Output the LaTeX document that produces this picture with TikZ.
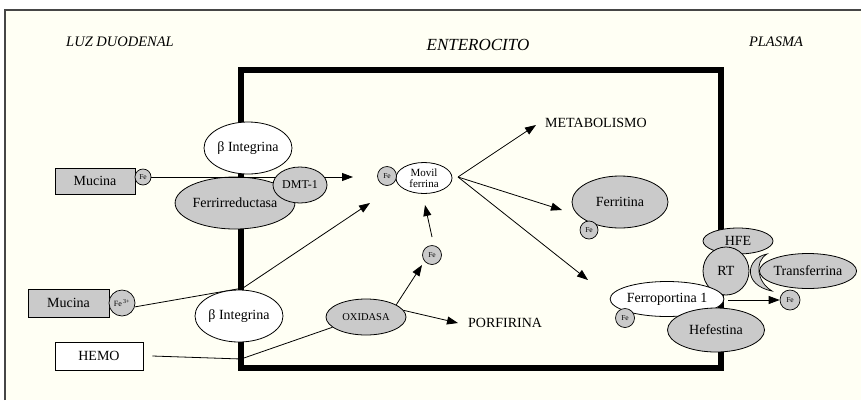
\documentclass[tikz,border=0pt]{standalone}
\usepackage{fontspec}
\setmainfont{Liberation Serif}
\usetikzlibrary{shapes.geometric,arrows.meta}
\pgfdeclarelayer{bg}
\pgfsetlayers{bg,main}
\definecolor{paper}{RGB}{255,255,244}
\definecolor{protfill}{RGB}{202,202,202}
\definecolor{framegray}{RGB}{70,70,70}
\begin{document}
\begin{tikzpicture}[x=1pt,y=-1pt,
  txt/.style={font=\fontsize{14}{14}\selectfont, inner sep=0pt},
  region/.style={font=\fontsize{14.5}{14.5}\selectfont\itshape, inner sep=0pt},
  ell/.style={ellipse, draw=black, line width=0.8pt, inner sep=0pt, font=\fontsize{14}{14}\selectfont},
  prot/.style={ell, fill=protfill},
  memb/.style={ell, fill=white},
  boxed/.style={rectangle, draw=black, line width=0.9pt, inner sep=0pt, font=\fontsize{14}{14}\selectfont},
  iron/.style={circle, draw=black, line width=0.7pt, fill=protfill, inner sep=0pt, font=\fontsize{7.5}{7.5}\selectfont},
  link/.style={line width=0.8pt},
  flow/.style={line width=0.8pt, -{Triangle[length=11pt,width=8pt]}},
  wall/.style={draw=black, line width=5.5pt, line join=miter, inner sep=0pt},
]
\useasboundingbox (0,0) rectangle (861,400);

% page and frame
\begin{pgfonlayer}{bg}
  \fill[white] (0,0) rectangle (861,400);
  \fill[paper] (5,10) rectangle (861,400);
  \draw[framegray, line width=1.2pt] (5,400) -- (5,10) -- (861,10);
\end{pgfonlayer}

% region titles
\node[region] (luz) at (120,42) {LUZ DUODENAL};
\node[region, font=\fontsize{17}{17}\selectfont\itshape] (ente) at (478,45) {ENTEROCITO};
\node[region] (plasma) at (776,42) {PLASMA};

% enterocyte wall
\node[wall, minimum width=480pt, minimum height=298pt] (cell) at (481,219) {};

% apical membrane, upper pathway
\node[memb, minimum width=88pt, minimum height=52pt] (bint1) at (248,148) {β Integrina};
\node[prot, minimum width=98pt, minimum height=52pt] (ferr) at (235,203) {Ferrirreductasa};
\node[boxed, fill=protfill, minimum width=80pt, minimum height=26pt] (muc1) at (95,181) {Mucina};
\node[iron, minimum size=16pt] (fe1) at (143,177) {Fe};
\coordinate (dmtout) at (353,177);
\draw[flow] (fe1.east) -- (dmtout);
\node[prot, minimum width=54pt, minimum height=36pt, font=\fontsize{12}{12}\selectfont] (dmt) at (300,185) {DMT-1};

% cytosolic carrier
\node[memb, minimum width=56pt, minimum height=31pt, align=center, font=\fontsize{11}{10.5}\selectfont] (movil) at (424,178) {Movil\\ferrina};
\node[iron, minimum size=19pt] (fe2) at (387,176) {Fe};
\node[iron, minimum size=19pt] (fe3) at (432,255) {Fe};

% heme pathway
\node[prot, minimum width=80pt, minimum height=36pt, font=\fontsize{10.5}{10.5}\selectfont] (oxi) at (366,317) {OXIDASA};
\node[txt, anchor=west] (porf) at (468,323) {PORFIRINA};
\node[boxed, fill=white, minimum width=88pt, minimum height=28pt] (hemo) at (99,356) {HEMO};

% apical membrane, lower pathway
\node[boxed, fill=protfill, minimum width=81pt, minimum height=28pt] (muc2) at (68.5,303) {Mucina};
\node[iron, minimum size=26pt, font=\fontsize{8}{8}\selectfont] (fe3p) at (122,303) {Fe\,\textsuperscript{3+}};
\node[memb, minimum width=88pt, minimum height=52pt] (bint2) at (239,316) {β Integrina};

% fates of iron
\node[txt, anchor=west] (meta) at (545,123) {METABOLISMO};
\node[prot, minimum width=96pt, minimum height=52pt] (ferrit) at (620,202) {Ferritina};
\node[iron, minimum size=18pt] (fe4) at (589,230) {Fe};

% basolateral membrane
\node[prot, minimum width=70pt, minimum height=26pt] (hfe) at (738,241) {HFE};
\node[prot, minimum width=46pt, minimum height=48pt] (rt) at (726,271) {RT};
\fill[protfill, draw=black, line width=0.7pt]
  (767,254) .. controls (746,258) and (742,285) .. (772,291)
  .. controls (757,282) and (754,262) .. cycle;
\node[prot, minimum width=90pt, minimum height=35pt] (transf) at (808,271) {Transferrina};
\node[iron, minimum size=20pt] (fe5) at (790,300) {Fe};
\node[memb, minimum width=106pt, minimum height=35pt] (fport) at (667,299) {Ferroportina 1};
\node[iron, minimum size=19pt] (fe6) at (625,318) {Fe};
\node[prot, minimum width=97pt, minimum height=44pt] (hef) at (716,330) {Hefestina};

% connectors
\coordinate (hub) at (458,177);
\coordinate (tometa) at (536,125);
\coordinate (toferrit) at (562,210);
\coordinate (tofport) at (588,280);
\coordinate (tomovil) at (370,203);
\coordinate (wallup) at (243,288);
\coordinate (wallhemo) at (241,359);
\coordinate (fe3top) at (432,237);
\coordinate (tomovil2) at (425,205);
\coordinate (tofe3) at (422,265);
\coordinate (exitfe) at (728,300);
\begin{pgfonlayer}{bg}
  \draw[flow] (hub) -- (tometa);
  \draw[flow] (hub) -- (toferrit);
  \draw[flow] (hub) -- (tofport);
  \draw[link] (fe3p.-17) -- (wallup);
  \draw[flow] (wallup) -- (tomovil);
  \draw[link] ([xshift=9pt]hemo.east) -- (wallhemo) -- (oxi.197);
  \draw[flow] (fe3top) -- (tomovil2);
  \draw[flow] (oxi.22) -- (tofe3);
  \draw[flow] (oxi.10) -- ([xshift=-10pt]porf.west);
  \draw[flow] (exitfe) -- (fe5.west);
\end{pgfonlayer}
\end{tikzpicture}
\end{document}
